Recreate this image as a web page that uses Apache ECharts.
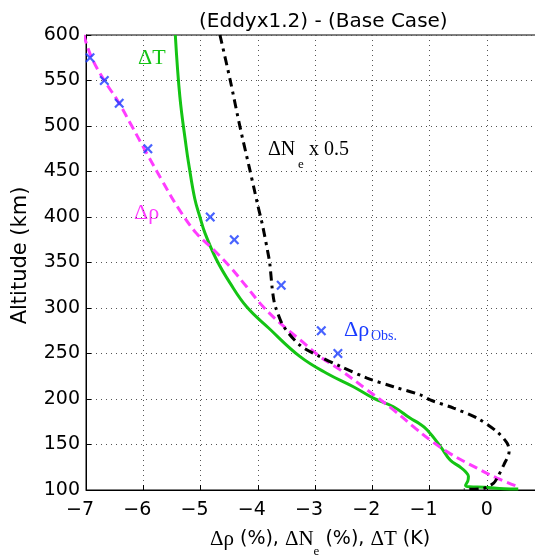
<!DOCTYPE html>
<html>
<head>
<meta charset="utf-8">
<script src="https://cdn.jsdelivr.net/npm/echarts@6/dist/echarts.min.js"></script>
<style>
  html, body { margin: 0; padding: 0; background: #fff; }
  #main { width: 535px; height: 556px; }
</style>
</head>
<body>
<div id="main"></div>
<script>
// profiles: altitude (km) and change
var rhoAlt = [600, 575, 550, 527, 500, 470, 440, 410, 382, 364, 345, 323, 301, 280, 265, 246.5, 232, 210, 188, 168, 155, 140, 124, 113, 104];
var rhoVal = [-7.04, -6.90, -6.68, -6.44, -6.20, -5.94, -5.67, -5.39, -5.07, -4.77, -4.48, -4.19, -3.90, -3.55, -3.26, -2.91, -2.56, -2.09, -1.63, -1.25, -0.99, -0.64, -0.17, 0.18, 0.53];

var tAlt = [600, 532, 477, 460, 420, 400, 382, 353, 327, 301, 278, 246.5, 228, 213.5, 201, 191.5, 179, 173, 166, 148, 133, 125, 120, 115, 110, 105, 103.5, 103, 101.5, 101];
var tVal = [-5.44, -5.36, -5.25, -5.21, -5.10, -5.01, -4.92, -4.72, -4.48, -4.19, -3.81, -3.26, -2.79, -2.33, -1.98, -1.63, -1.34, -1.18, -1.04, -0.81, -0.64, -0.46, -0.37, -0.32, -0.33, -0.37, -0.30, -0.05, 0.30, 0.55];

var neAlt = [600, 550, 499, 455, 430, 413, 400, 389, 360, 349, 323, 309, 301, 280, 259, 246.5, 236, 223, 213.5, 204.5, 199, 190, 179, 164, 151, 142, 128, 113, 107.5, 103, 101.5, 100.5];
var neVal = [-4.66, -4.48, -4.31, -4.15, -4.06, -4.00, -3.95, -3.91, -3.82, -3.79, -3.75, -3.72, -3.69, -3.55, -3.26, -2.91, -2.56, -2.09, -1.63, -1.16, -0.99, -0.58, -0.17, 0.18, 0.36, 0.39, 0.30, 0.18, 0.12, 0.0, -0.07, -0.40];

var obsAlt = [575, 550, 525, 475, 400, 375, 325, 275, 250];
var obsVal = [-6.93, -6.68, -6.42, -5.92, -4.83, -4.41, -3.59, -2.89, -2.60];

var xMin = -7, xMax = 1, xStep = 1;
var yMin = 100, yMax = 600, yStep = 50;

function pairs(vals, alts) {
  return vals.map(function (v, i) { return [v, alts[i]]; });
}

var sans = 'DejaVu Sans';
var serif = 'Liberation Serif';
var green = '#14c414';
var magenta = '#ff3cff';
var blue = '#1a3cff';
var cross = 'path://M0,1.6L1.6,0L5,3.4L8.4,0L10,1.6L6.6,5L10,8.4L8.4,10L5,6.6L1.6,10L0,8.4L3.4,5Z';

var chart = echarts.init(document.getElementById('main'));

var option = {
  animation: false,
  title: {
    text: '(Eddyx1.2) - (Base Case)',
    left: 199,
    top: 12,
    padding: 0,
    textStyle: { fontFamily: sans, fontSize: 20, fontWeight: 'normal', color: '#000' }
  },
  grid: {
    left: 86, right: -9, top: 35, bottom: 66,
    outerBoundsMode: 'none', containLabel: false,
    show: true, borderColor: '#000', borderWidth: 1, backgroundColor: 'transparent'
  },
  xAxis: {
    type: 'value', min: xMin, max: xMax, interval: xStep,
    name: '{s|Δρ}{t| (%), }{s|ΔN}{u|e}{t| (%), }{s|ΔT}{t| (K)}',
    nameLocation: 'middle', nameGap: 30,
    nameTextStyle: {
      padding: [0, 0, 0, 10],
      rich: {
        s: { fontFamily: serif, fontSize: 21, color: '#000', lineHeight: 38, verticalAlign: 'middle' },
        t: { fontFamily: sans, fontSize: 19, color: '#000', lineHeight: 38, verticalAlign: 'middle' },
        u: { fontFamily: serif, fontSize: 13, color: '#000', lineHeight: 13, verticalAlign: 'bottom' }
      }
    },
    axisLine: { onZero: false, lineStyle: { color: '#000', width: 1 } },
    axisTick: { inside: true, length: 5, lineStyle: { color: '#000' } },
    axisLabel: {
      margin: 11, fontFamily: sans, fontSize: 19, color: '#000',
      formatter: function (v) {
        if (v > 0) return '';
        if (v < 0) return '\u2212' + Math.abs(v) + '\u00a0\u00a0';
        return String(v);
      }
    },
    splitLine: { show: true, lineStyle: { color: '#555', width: 1, type: [1, 4] } }
  },
  yAxis: {
    type: 'value', min: yMin, max: yMax, interval: yStep,
    name: 'Altitude (km)', nameLocation: 'middle', nameGap: 55,
    nameTextStyle: { fontFamily: sans, fontSize: 21, color: '#000', padding: [0, 0, 0, 14] },
    axisLine: { show: true, onZero: false, lineStyle: { color: '#000', width: 1 } },
    axisTick: { show: true, inside: true, length: 5, lineStyle: { color: '#000' } },
    axisLabel: { margin: 6, fontFamily: sans, fontSize: 19, color: '#000' },
    splitLine: { show: true, lineStyle: { color: '#555', width: 1, type: [1, 4] } }
  },
  series: [
    {
      name: 'dT', type: 'line', data: pairs(tVal, tAlt), showSymbol: false, smooth: 0.4,
      lineStyle: { color: green, width: 3 }, z: 3
    },
    {
      name: 'drho', type: 'line', data: pairs(rhoVal, rhoAlt), showSymbol: false, smooth: 0.4,
      lineStyle: { color: magenta, width: 3, type: [9, 5] }, z: 4
    },
    {
      name: 'dNe', type: 'line', data: pairs(neVal, neAlt), showSymbol: false, smooth: 0.3,
      lineStyle: { color: '#000', width: 3, type: [9, 5, 3, 5] }, z: 5
    },
    {
      name: 'obs', type: 'scatter', data: pairs(obsVal, obsAlt),
      symbol: cross, symbolSize: 10,
      itemStyle: { color: blue }, z: 6
    }
  ],
  graphic: [
    { type: 'text', left: 138, top: 47, style: { text: 'ΔT', fill: green, font: '22px "Liberation Serif"' } },
    { type: 'text', left: 134, top: 202, style: { text: 'Δρ', fill: magenta, font: '22px "Liberation Serif"' } },
    { type: 'text', left: 268, top: 140, style: { text: 'ΔN', fill: '#000', font: '20px "Liberation Serif"' } },
    { type: 'text', left: 298, top: 158, style: { text: 'e', fill: '#000', font: '13px "Liberation Serif"' } },
    { type: 'text', left: 309, top: 140, style: { text: 'x 0.5', fill: '#000', font: '20px "Liberation Serif"' } },
    { type: 'text', left: 344, top: 319, style: { text: 'Δρ', fill: blue, font: '22px "Liberation Serif"' } },
    { type: 'text', left: 371, top: 329, style: { text: 'Obs.', fill: blue, font: '14px "Liberation Serif"' } }
  ]
};

chart.setOption(option);
</script>
</body>
</html>
